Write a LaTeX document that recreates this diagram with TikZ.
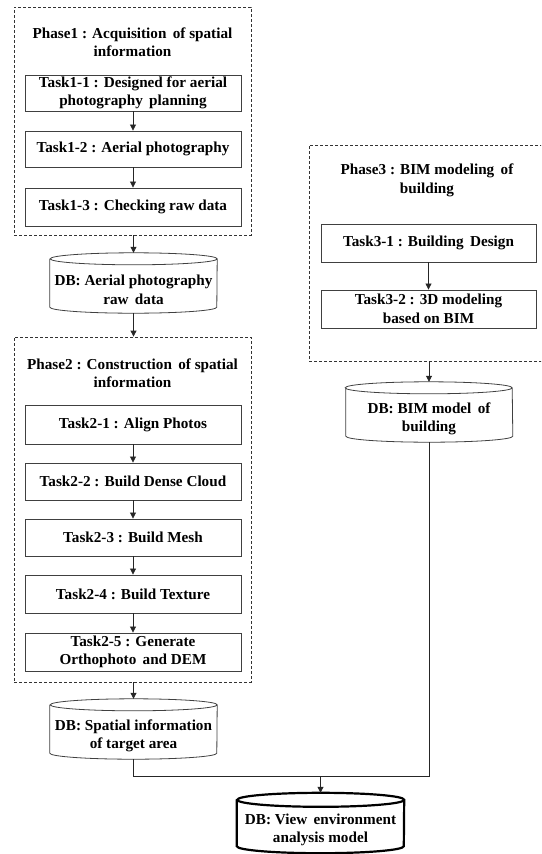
\documentclass[tikz,border=0pt]{standalone}
\usepackage{fontspec}
\setmainfont{Liberation Serif}
\usetikzlibrary{arrows.meta}
\tikzset{
  every node/.style={font=\bfseries\fontsize{15.2}{18.5}\selectfont, align=center, inner sep=0pt},
  taskbox/.style={draw=black!75, line width=0.9pt, minimum width=216pt},
  phasebox/.style={draw=black!80, dashed, dash pattern=on 3pt off 2pt, line width=0.8pt},
  dbnode/.style={minimum width=167pt, minimum height=60pt},
  conn/.style={draw=black!85, line width=0.8pt},
  arr/.style={conn, -{Triangle[length=6pt,width=6pt]}},
}
\newcommand{\cyl}[3]{% name, ry, style
  \draw[#3] ([yshift=-#2]#1.north west) -- ([yshift=#2]#1.south west)
    arc[start angle=180, end angle=360, x radius=83.5pt, y radius=#2]
    -- ([yshift=-#2]#1.north east)
    arc[start angle=0, end angle=180, x radius=83.5pt, y radius=#2]
    arc[start angle=180, end angle=360, x radius=83.5pt, y radius=#2];
}
\begin{document}
\begin{tikzpicture}[x=1pt, y=-1pt]
\useasboundingbox (0,0) rectangle (541,854);
\clip (0,0) rectangle (541,854);

% Phase 1
\node[phasebox, minimum width=237pt, minimum height=228pt] (p1) at (132.5,121) {};
\node (p1t) at (132.5,42) {Phase1 : Acquisition\, of spatial\\information};
\node[taskbox, minimum height=36pt] (t11) at (133,93) {Task1-1 : Designed for aerial\\photography\, planning};
\node[taskbox, minimum height=36pt] (t12) at (133,149) {Task1-2 : Aerial photography};
\node[taskbox, minimum height=38pt] (t13) at (133,207) {Task1-3 : Checking raw data};

% DB1
\node[dbnode] (db1) at (133.5,283) {};
\node (db1t) at (133.5,290) {DB: Aerial photography\\raw\, data};
\cyl{db1}{6pt}{draw=black!75, line width=0.8pt}

% Phase 2
\node[phasebox, minimum width=237pt, minimum height=345pt] (p2) at (132.5,509.5) {};
\node (p2t) at (132.5,373) {Phase2 : Construction\, of spatial\\information};
\node[taskbox, minimum height=39pt] (t21) at (133,424.5) {Task2-1 : Align Photos};
\node[taskbox, minimum height=37pt] (t22) at (133,481.5) {Task2-2 : Build Dense Cloud};
\node[taskbox, minimum height=37pt] (t23) at (133,537.5) {Task2-3 : Build Mesh};
\node[taskbox, minimum height=38pt] (t24) at (133,594) {Task2-4 : Build Texture};
\node[taskbox, minimum height=38pt] (t25) at (133,652) {Task2-5 : Generate\\Orthophoto\, and DEM};

% DB2
\node[dbnode] (db2) at (133.5,729) {};
\node (db2t) at (133.5,736) {DB: Spatial information\\of target area};
\cyl{db2}{6pt}{draw=black!75, line width=0.8pt}

% Phase 3
\node[phasebox, minimum width=239pt, minimum height=216pt] (p3) at (428.5,253) {};
\node (p3t) at (427,180.5) {Phase3 : BIM modeling\, of\\building};
\node[taskbox, minimum width=215pt, minimum height=38pt] (t31) at (428.5,243) {Task3-1 : Building\, Design};
\node[taskbox, minimum width=215pt, minimum height=38pt] (t32) at (428.5,309) {Task3-2 : 3D modeling\\based on BIM};

% DB3
\node[dbnode, minimum width=166pt] (db3) at (429,412) {};
\node (db3t) at (429,419) {DB: BIM model\, of\\building};
\cyl{db3}{6pt}{draw=black!75, line width=0.8pt}

% Final DB
\node[dbnode] (fin) at (320.5,823) {};
\node (fint) at (320.5,830) {DB: View\, environment\\analysis model};
\cyl{fin}{7pt}{draw=black, line width=2.2pt}

% Connectors
\draw[arr] (t11) -- (t12);
\draw[arr] (t12) -- (t13);
\draw[arr] (p1.south -| db1.north) -- (db1.north);
\draw[arr] (db1.south) -- (p2.north -| db1.south);
\draw[arr] (t21) -- (t22);
\draw[arr] (t22) -- (t23);
\draw[arr] (t23) -- (t24);
\draw[arr] (t24) -- (t25);
\draw[arr] (p2.south -| db2.north) -- (db2.north);
\draw[arr] (t31) -- (t32);
\draw[arr] (p3.south -| db3.north) -- (db3.north);
\draw[conn] (db2.south) -- ++(0,17) -| (db3.south);
\coordinate (j) at (fin.north |- 0,776);
\draw[arr] (j) -- (fin.north);
\end{tikzpicture}
\end{document}
